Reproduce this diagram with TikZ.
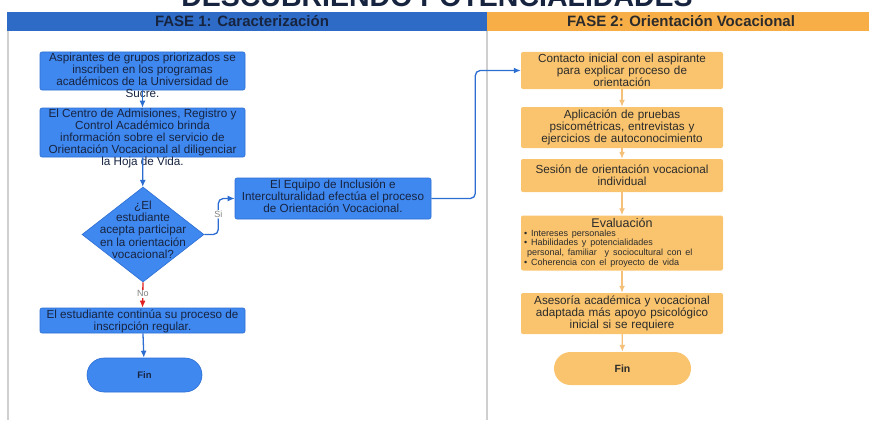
\documentclass[tikz,border=0pt]{standalone}
\usepackage{fontspec}
\setmainfont{Liberation Sans}
\usetikzlibrary{shapes.geometric,arrows.meta,positioning}

\definecolor{azulcaja}{HTML}{3F88F0}
\definecolor{azulborde}{HTML}{2C6DD2}
\definecolor{azulfase}{HTML}{2E6BC6}
\definecolor{tintaazul}{HTML}{172440}
\definecolor{narcaja}{HTML}{FAC46E}
\definecolor{narfase}{HTML}{F8AE46}
\definecolor{narflecha}{HTML}{F5C07A}
\definecolor{tintanar}{HTML}{2B2B2B}
\definecolor{rojono}{HTML}{E02020}
\definecolor{gris}{HTML}{CFCFCF}

\newcommand{\cajatexto}[3]{\parbox[c][#1][t]{#2}{\vspace*{1.5pt}\centering #3}}

\begin{document}
\begin{tikzpicture}[
    x=1pt, y=-1pt,
    font=\fontsize{11.7}{12}\selectfont,
    proc/.style={rectangle, draw=azulborde, fill=azulcaja, rounded corners=2pt, line width=0.6pt, inner xsep=3pt, inner ysep=0pt, text=tintaazul},
    decision/.style={diamond, draw=azulborde, fill=azulcaja, line width=0.6pt, inner sep=0pt, minimum width=122pt, minimum height=95pt, text=tintaazul},
    finazul/.style={rectangle, rounded corners=17pt, draw=azulborde, fill=azulcaja, line width=0.6pt, minimum width=115pt, minimum height=34pt, text=tintaazul, font=\fontsize{9.5}{10}\selectfont\bfseries},
    procnar/.style={rectangle, fill=narcaja, rounded corners=2pt, text width=196pt, align=center, minimum width=202pt, inner xsep=3pt, inner ysep=0pt, text=tintanar},
    finnar/.style={rectangle, rounded corners=16.5pt, fill=narcaja, minimum width=137pt, minimum height=33pt, text=tintanar, font=\fontsize{10.5}{11}\selectfont\bfseries},
    fase/.style={font=\fontsize{15}{16}\selectfont\bfseries},
    flow/.style={draw=azulborde, line width=1.3pt, -{Latex[length=7pt,width=6pt]}},
    flownar/.style={draw=narflecha, line width=1.3pt, -{Latex[length=7pt,width=6pt]}},
    flowno/.style={draw=rojono, line width=1.3pt, -{Latex[length=7pt,width=6pt]}},
    lab/.style={fill=white, inner sep=1pt, text=gray, font=\fontsize{9}{10}\selectfont}
]
\useasboundingbox (0,0) rectangle (869,420);

% lanes
\draw[gris, line width=1.2pt] (8,31) -- (8,420);
\draw[gris, line width=1.2pt] (487,31) -- (487,420);
\fill[azulfase] (7,12) rectangle (487,31);
\fill[narfase] (487,12) rectangle (869,31);
\node[font=\fontsize{28.5}{30}\selectfont\bfseries, text=tintaazul, anchor=base] (titulo) at (437,6.5) {DESCUBRIENDO POTENCIALIDADES};
\node[fase, text=tintaazul] (fase1) at (242,21.5) {FASE 1: Caracterización};
\node[fase, text=tintanar] (fase2) at (681,21.5) {FASE 2: Orientación Vocacional};

% fase 1
\node[proc] (aspirantes) at (142.5,71) {\cajatexto{38pt}{199pt}{Aspirantes de grupos priorizados se\\inscriben en los programas\\académicos de la Universidad de\\Sucre.}};
\node[proc] (centro) at (142.5,132.5) {\cajatexto{49pt}{199pt}{El Centro de Admisiones, Registro y\\Control Académico brinda\\información sobre el servicio de\\Orientación Vocacional al diligenciar\\la Hoja de Vida.}};
\node[decision] (acepta) at (143,234.5) {\makebox[0pt]{\smash{\begin{tabular}{@{}c@{}}¿El\\estudiante\\acepta participar\\en la orientación\\vocacional?\end{tabular}}}};
\node[proc] (continua) at (142.5,320.5) {\cajatexto{25pt}{199pt}{El estudiante continúa su proceso de\\inscripción regular.}};
\node[finazul] (fin1) at (144.5,375) {Fin};
\node[proc] (equipo) at (333,198.5) {\cajatexto{41pt}{190pt}{El Equipo de Inclusión e\\Interculturalidad efectúa el proceso\\de Orientación Vocacional.}};

% fase 2
\node[procnar, minimum height=37pt] (contacto) at (622,70.5) {Contacto inicial con el aspirante\\para explicar proceso de\\orientación};
\node[procnar, minimum height=41pt] (pruebas) at (622,127.5) {Aplicación de pruebas\\psicométricas, entrevistas y\\ejercicios de autoconocimiento};
\node[procnar, minimum height=33pt] (sesion) at (622,175.5) {Sesión de orientación vocacional\\individual};
\node[procnar, minimum height=55pt] (evaluacion) at (622,243) {{\fontsize{12.5}{13}\selectfont Evaluación}\\[0.5pt]
\parbox{196pt}{\raggedright\fontsize{9}{9.8}\selectfont
\textbullet\ Intereses personales\\
\textbullet\ Habilidades y potencialidades\\
\hspace*{3pt}personal, familiar\ \ y sociocultural con el\\
\textbullet\ Coherencia con el proyecto de vida}};
\node[procnar, minimum height=41pt] (asesoria) at (622,313.5) {Asesoría académica y vocacional\\adaptada más apoyo psicológico\\inicial si se requiere};
\node[finnar] (fin2) at (622.5,368.5) {Fin};

\draw[flow] (aspirantes) -- (centro);
\draw[flow] (centro) -- (acepta);
\draw[flow, rounded corners=5pt] (acepta.east) -- ++(14,0) |- node[pos=0.28, lab] {Si} (equipo.west);
\draw[flowno] (acepta.south) -- node[lab, pos=0.45] {No} (continua.north);
\draw[flow] (continua) -- (fin1);
\draw[flow, rounded corners=5pt] (equipo.east) -- ++(44,0) |- (contacto.west);
\draw[flownar] (contacto) -- (pruebas);
\draw[flownar] (pruebas) -- (sesion);
\draw[flownar] (sesion) -- (evaluacion);
\draw[flownar] (evaluacion) -- (asesoria);
\draw[flownar] (asesoria) -- (fin2);
\end{tikzpicture}
\end{document}
